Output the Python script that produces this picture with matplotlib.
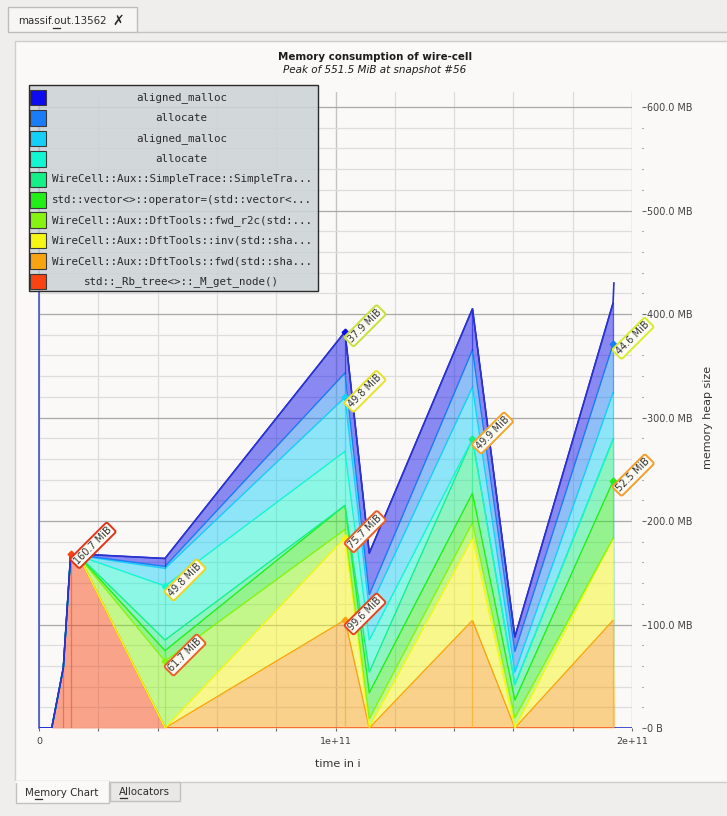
import matplotlib
matplotlib.use("Agg")
import matplotlib.pyplot as plt
from matplotlib.patches import Rectangle
from matplotlib.ticker import FixedLocator, MultipleLocator, FuncFormatter
import numpy as np

W, H, DPI = 727, 816, 100

# ---------------- texts ----------------
title = "Memory consumption of wire-cell"
subtitle = "Peak of 551.5 MiB at snapshot #56"
x_label = "time in i"
y_label = "memory heap size"
tab_title = "massif.out.13562"
bottom_tabs = ["Memory Chart", "Allocators"]

# ---------------- data ----------------
snapshot_times = [0.0, 0.043e11, 0.082e11, 0.107e11, 0.138e11, 0.425e11,
                  1.032e11, 1.114e11, 1.462e11, 1.605e11, 1.936e11, 1.942e11]

# layers, stacked from bottom to top (values in MB)
rb_tree_mb     = [0, 0, 58, 168.5, 164, 0, 0, 0, 0, 0, 0, 0]
fwd_mb         = [0, 0, 0, 0, 0, 0, 104.4, 0, 104, 0, 104, 0]
inv_mb         = [0, 0, 0, 0, 0, 0, 79.4, 1, 79.4, 0, 79.4, 0]
fwd_r2c_mb     = [0, 0, 0, 0, 0.5, 64.7, 8, 8, 15, 10, 0, 0]
vector_op_mb   = [0, 0, 0, 0, 0.5, 10, 23.3, 25, 28.5, 17, 55, 0]
simpletrace_mb = [0, 0, 0, 0, 0.5, 10.3, 0, 20, 52.3, 15, 40.5, 0]
allocate_b_mb  = [0, 0, 0, 0, 0.5, 52.2, 52.2, 31, 0, 0, 0, 0]
aligned_b_mb   = [0, 0, 0, 0, 0.5, 17, 52.2, 30, 50.2, 12, 45, 0]
allocate_a_mb  = [0, 0, 0, 0, 0.5, 2, 23.6, 14, 36, 20, 46.8, 0]
aligned_a_mb   = [0, 0, 0, 0, 1, 7.6, 39.7, 40, 39.7, 14, 39.7, 0]

# total heap outline: main part up to the final spike, then the zero tail
total_times = [0.0, 0.043e11, 0.082e11, 0.107e11, 0.138e11, 0.425e11, 1.032e11,
               1.114e11, 1.462e11, 1.605e11, 1.936e11, 1.939e11]
total_mb = [0, 0, 58, 168.5, 168, 163.8, 382.8, 169, 405.1, 88, 410.4, 430]
tail_times = [1.942e11, 2.0e11]
tail_mb = [0, 0]

layer_names = ["std::_Rb_tree<>::_M_get_node()",
               "WireCell::Aux::DftTools::fwd(std::sha...",
               "WireCell::Aux::DftTools::inv(std::sha...",
               "WireCell::Aux::DftTools::fwd_r2c(std:...",
               "std::vector<>::operator=(std::vector<...",
               "WireCell::Aux::SimpleTrace::SimpleTra...",
               "allocate",
               "aligned_malloc",
               "allocate",
               "aligned_malloc"]
layer_values = [rb_tree_mb, fwd_mb, inv_mb, fwd_r2c_mb, vector_op_mb,
                simpletrace_mb, allocate_b_mb, aligned_b_mb, allocate_a_mb, aligned_a_mb]
layer_colors = ['#f84412', '#f8a412', '#f6f614', '#86f412', '#22ee18', '#14f086',
                '#14f6d2', '#14d0f8', '#1a7cf6', '#0c0cee']

# (layer index, snapshot index, label, border colour)
peak_labels = [
    (0, 3, "160.7 MiB", '#e0341c'),
    (6, 5, "49.8 MiB", '#e6d626'),
    (3, 5, "61.7 MiB", '#e8642a'),
    (9, 6, "37.9 MiB", '#c6e03c'),
    (7, 6, "49.8 MiB", '#e8e02e'),
    (2, 6, "75.7 MiB", '#e85e28'),
    (1, 6, "99.6 MiB", '#e04822'),
    (5, 8, "49.9 MiB", '#f0a62e'),
    (8, 10, "44.6 MiB", '#d6ec2e'),
    (4, 10, "52.5 MiB", '#f09e2e'),
]
snapshot_marks = [2, 3, 5, 6, 8, 10]

x_major = [0, 1e11, 2e11]
y_major_step, y_minor_step, x_minor_step = 100, 20, 0.2e11

# ---------------- figure / window chrome ----------------
fig = plt.figure(figsize=(W / DPI, H / DPI), dpi=DPI)
bg = fig.add_axes([0, 0, 1, 1], zorder=0)
bg.set_xlim(0, W); bg.set_ylim(H, 0); bg.axis('off')
bg.add_patch(Rectangle((0, 0), W, H, fc='#efeeec', ec='none'))
bg.plot([136.5, W], [32, 32], color='#c4c3c1', lw=1)
bg.add_patch(Rectangle((7.5, 6.5), 129, 25.5, fc='#f7f6f4', ec='#bebdbb', lw=1))
bg.text(18, 20.5, tab_title, fontsize=7.4, color='#2c2c2c', va='center', ha='left')
bg.plot([52.5, 59.5], [28.3, 28.3], color='#2c2c2c', lw=0.9)
bg.text(118, 20.5, '\u2717', fontsize=10, fontweight='bold', ha='center', va='center', color='#2a2a2a')
bg.add_patch(Rectangle((15, 40.5), W, 782 - 40.5, fc='#faf9f7', ec='#cfcecc', lw=1))
bg.add_patch(Rectangle((109.5, 782), 70, 19, fc='#e9e8e6', ec='#c2c1bf', lw=1))
bg.add_patch(Rectangle((15.5, 781), 93.5, 22, fc='#faf9f7', ec='#c2c1bf', lw=1))
bg.plot([16.2, 108.4], [782, 782], color='#faf9f7', lw=1.6)
bg.text(62, 792.7, bottom_tabs[0], fontsize=7.4, color='#2c2c2c', ha='center', va='center')
bg.plot([35, 41.5], [799, 799], color='#2c2c2c', lw=0.9)
bg.text(144.5, 791.7, bottom_tabs[1], fontsize=7.4, color='#2c2c2c', ha='center', va='center')
bg.plot([119.5, 126.5], [798, 798], color='#2c2c2c', lw=0.9)

fig.text(375 / W, 1 - 57 / H, title, ha='center', va='center', fontsize=7.4,
         fontweight='bold', color='#1c1c1c')
fig.text(375 / W, 1 - 70 / H, subtitle, ha='center', va='center', fontsize=7.5,
         style='italic', color='#1c1c1c')
fig.text(708 / W, 1 - 417 / H, y_label, rotation=90, ha='center', va='center',
         fontsize=8, color='#333333')
fig.text(338 / W, 1 - 764 / H, x_label, ha='center', va='center', fontsize=8, color='#333333')

# ---------------- chart ----------------
ax = fig.add_axes([39 / W, (H - 728) / H, (632 - 39) / W, (728 - 91.5) / H], zorder=1)
ax.set_facecolor('none')
ax.set_xlim(0, 2e11)
ax.set_ylim(0, 615)

t = np.array(snapshot_times)
base = np.zeros(len(t))
bases, tops = [], []
for vals, col in zip(layer_values, layer_colors):
    top = base + np.array(vals, dtype=float)
    ax.fill_between(t, base, top, color=col, alpha=0.47, lw=0, zorder=2)
    bases.append(base); tops.append(top)
    base = top
for li, col in enumerate(layer_colors):
    # outline each layer up to the last recorded snapshot (no line on the final drop)
    ax.plot(t[:-1], tops[li][:-1], color=col, lw=1.0, zorder=3)
    for si in snapshot_marks:
        if tops[li][si] - bases[li][si] > 0.3:
            ax.plot([t[si], t[si]], [bases[li][si], tops[li][si]], color=col,
                    lw=0.9, alpha=0.55, zorder=3)

ax.plot(total_times, total_mb, color='#2a34cc', lw=1.2, zorder=4)
ax.plot(tail_times, tail_mb, color='#2a34cc', lw=1.2, zorder=4)

for li, si, txt, ec in peak_labels:
    x, y = t[si], tops[li][si]
    ax.plot(x, y, marker='D', ms=3.4, color=layer_colors[li], mec=layer_colors[li], zorder=6)
    ax.annotate(txt, (x, y), xytext=(5, -9), textcoords='offset pixels', rotation=45,
                rotation_mode='anchor', ha='left', va='center', fontsize=7,
                color='#333333', zorder=7,
                bbox=dict(boxstyle='round,pad=0.18,rounding_size=0.2', fc='#fbfbf4',
                          ec=ec, lw=1.4))

# axes styling
for s in ['top', 'bottom']:
    ax.spines[s].set_visible(False)
ax.spines['left'].set_color('#3a44c4')
ax.spines['left'].set_linewidth(1.1)
ax.spines['right'].set_position(('outward', 7))
ax.spines['right'].set_visible(False)

ax.xaxis.set_major_locator(FixedLocator(x_major))
ax.xaxis.set_minor_locator(MultipleLocator(x_minor_step))
ax.xaxis.set_major_formatter(FuncFormatter(lambda v, p: '0' if v == 0 else f'{v:.0e}'))
ax.yaxis.tick_right()
ax.yaxis.set_major_locator(MultipleLocator(y_major_step))
ax.yaxis.set_minor_locator(MultipleLocator(y_minor_step))
ax.yaxis.set_major_formatter(FuncFormatter(lambda v, p: '0 B' if v == 0 else f'{v:.1f} MB'))

ax.tick_params(axis='y', which='major', length=2.6, width=0.8, color='#6a6a6a', pad=1.3,
               labelsize=6.9, labelcolor='#404040')
ax.tick_params(axis='y', which='minor', length=1.0, width=0.8, color='#6a6a6a')
ax.tick_params(axis='x', which='both', length=2.2, width=0.8, color='#6a6a6a', pad=4.5,
               labelsize=6.8, labelcolor='#404040', direction='out')

ax.set_axisbelow(True)
ax.xaxis.grid(True, which='minor', color='#dcdcdc', lw=0.9)
ax.xaxis.grid(True, which='major', color='#c4c4c4', lw=1.0)
ax.yaxis.grid(True, which='minor', color='#dddddd', lw=0.9)
ax.yaxis.grid(True, which='major', color='#a9a9a9', lw=0.9)

# ---------------- legend ----------------
fg = fig.add_axes([0, 0, 1, 1], zorder=3)
fg.set_xlim(0, W); fg.set_ylim(H, 0); fg.axis('off')
fg.add_patch(Rectangle((28.5, 85), 289, 206, fc=(0.80, 0.825, 0.84, 0.86), ec='#2a2a2a', lw=1))
for i, li in enumerate(range(len(layer_names) - 1, -1, -1)):
    cy = 97.5 + i * 20.44
    fg.add_patch(Rectangle((30, cy - 7.7), 15.5, 15.5, fc=layer_colors[li], ec='#3a3a3a', lw=0.8))
    fg.text(181.5, cy, layer_names[li], ha='center', va='center', fontsize=7.85,
            family='DejaVu Sans Mono', color='#2a2a2a')

fig.savefig('out.png', dpi=DPI)
